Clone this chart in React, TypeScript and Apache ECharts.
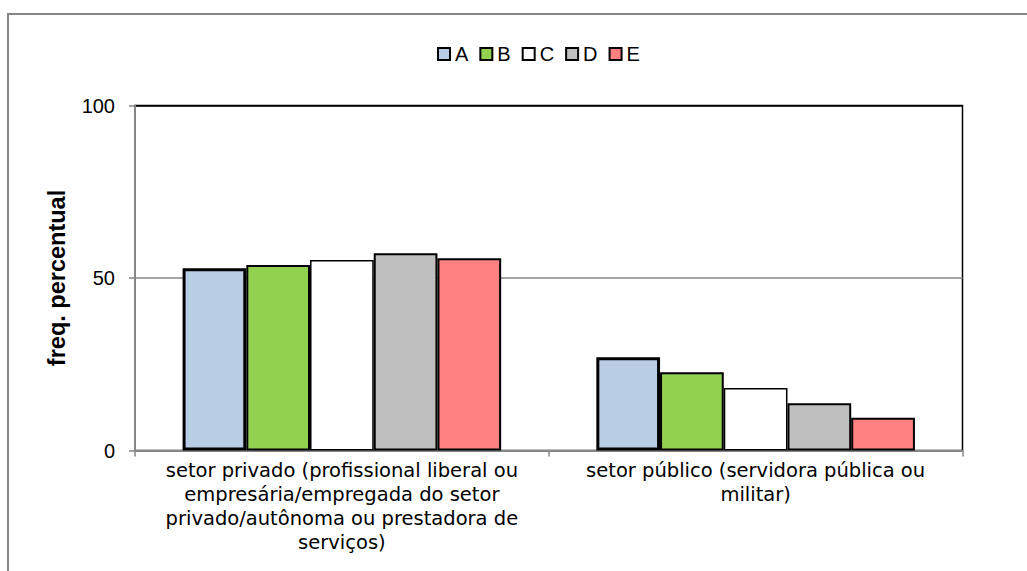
import React, { useEffect, useRef } from "react";
import * as echarts from "echarts";

const categories = [
  "setor privado (profissional liberal ou\nempresária/empregada do setor\nprivado/autônoma ou prestadora de\nserviços)",
  "setor público (servidora pública ou\nmilitar)",
];
const seriesNames = ["A", "B", "C", "D", "E"];
const valuesA = [52.8, 27.0];
const valuesB = [53.8, 22.7];
const valuesC = [55.2, 18.1];
const valuesD = [57.2, 13.7];
const valuesE = [55.7, 9.5];
const yTicks = [0, 50, 100];

const seriesValues = [valuesA, valuesB, valuesC, valuesD, valuesE];
const fills = ["#B9CDE5", "#92D050", "#FFFFFF", "#BFBFBF", "#FF8080"];
const borderWidths = [3, 2, 1.5, 2, 2];

export default function App() {
  const ref = useRef<HTMLDivElement>(null);
  useEffect(() => {
    if (!ref.current) return;
    const chart = echarts.init(ref.current, undefined, { renderer: "svg" });
    chart.setOption({
      animation: false,
      backgroundColor: "#fff",
      graphic: [
        {
          type: "rect",
          shape: { x: 8, y: 14, width: 1200, height: 700 },
          style: { fill: "none", stroke: "#868686", lineWidth: 2 },
          silent: true,
        },
      ],
      legend: {
        data: seriesNames,
        icon: "rect",
        left: 432,
        top: 39,
        itemWidth: 12,
        itemHeight: 12,
        itemGap: 11,
        textStyle: { fontFamily: "Liberation Sans", fontSize: 20, color: "#000" },
      },
      grid: {
        left: 135,
        right: 64.5,
        top: 105.5,
        bottom: 120.5,
        show: true,
        borderColor: "#000",
        borderWidth: 1.5,
        backgroundColor: "transparent",
      },
      xAxis: {
        type: "category",
        data: categories,
        axisLine: { show: true, lineStyle: { color: "#868686", width: 2 } },
        axisTick: { show: true, length: 6, lineStyle: { color: "#868686", width: 1.5 } },
        axisLabel: {
          interval: 0,
          margin: 8,
          color: "#000",
          fontFamily: "DejaVu Sans",
          fontSize: 19.5,
          lineHeight: 24,
          align: "center",
        },
      },
      yAxis: {
        type: "value",
        min: yTicks[0],
        max: yTicks[yTicks.length - 1],
        interval: 50,
        name: "freq. percentual",
        nameLocation: "middle",
        nameGap: 66,
        nameTextStyle: {
          fontFamily: "Liberation Sans",
          fontWeight: "bold",
          fontSize: 23.5,
          color: "#000",
        },
        axisLine: { show: true, lineStyle: { color: "#868686", width: 2 } },
        axisTick: { show: true, length: 6, lineStyle: { color: "#868686", width: 1.5 } },
        axisLabel: {
          margin: 20,
          color: "#000",
          fontFamily: "Liberation Sans",
          fontSize: 20,
        },
        splitLine: {
          show: true,
          lineStyle: { color: ["#868686", "#868686", "#000"], width: 1.5 },
        },
      },
      series: seriesNames.map((name, i) => ({
        name,
        type: "bar",
        data: seriesValues[i],
        barGap: "0%",
        barCategoryGap: "23%",
        itemStyle: {
          color: fills[i],
          borderColor: "#000",
          borderWidth: borderWidths[i],
        },
      })),
    });
    return () => chart.dispose();
  }, []);
  return (
    <div
      ref={ref}
      style={{ position: "fixed", left: 0, top: 0, width: 1027, height: 571 }}
    />
  );
}
